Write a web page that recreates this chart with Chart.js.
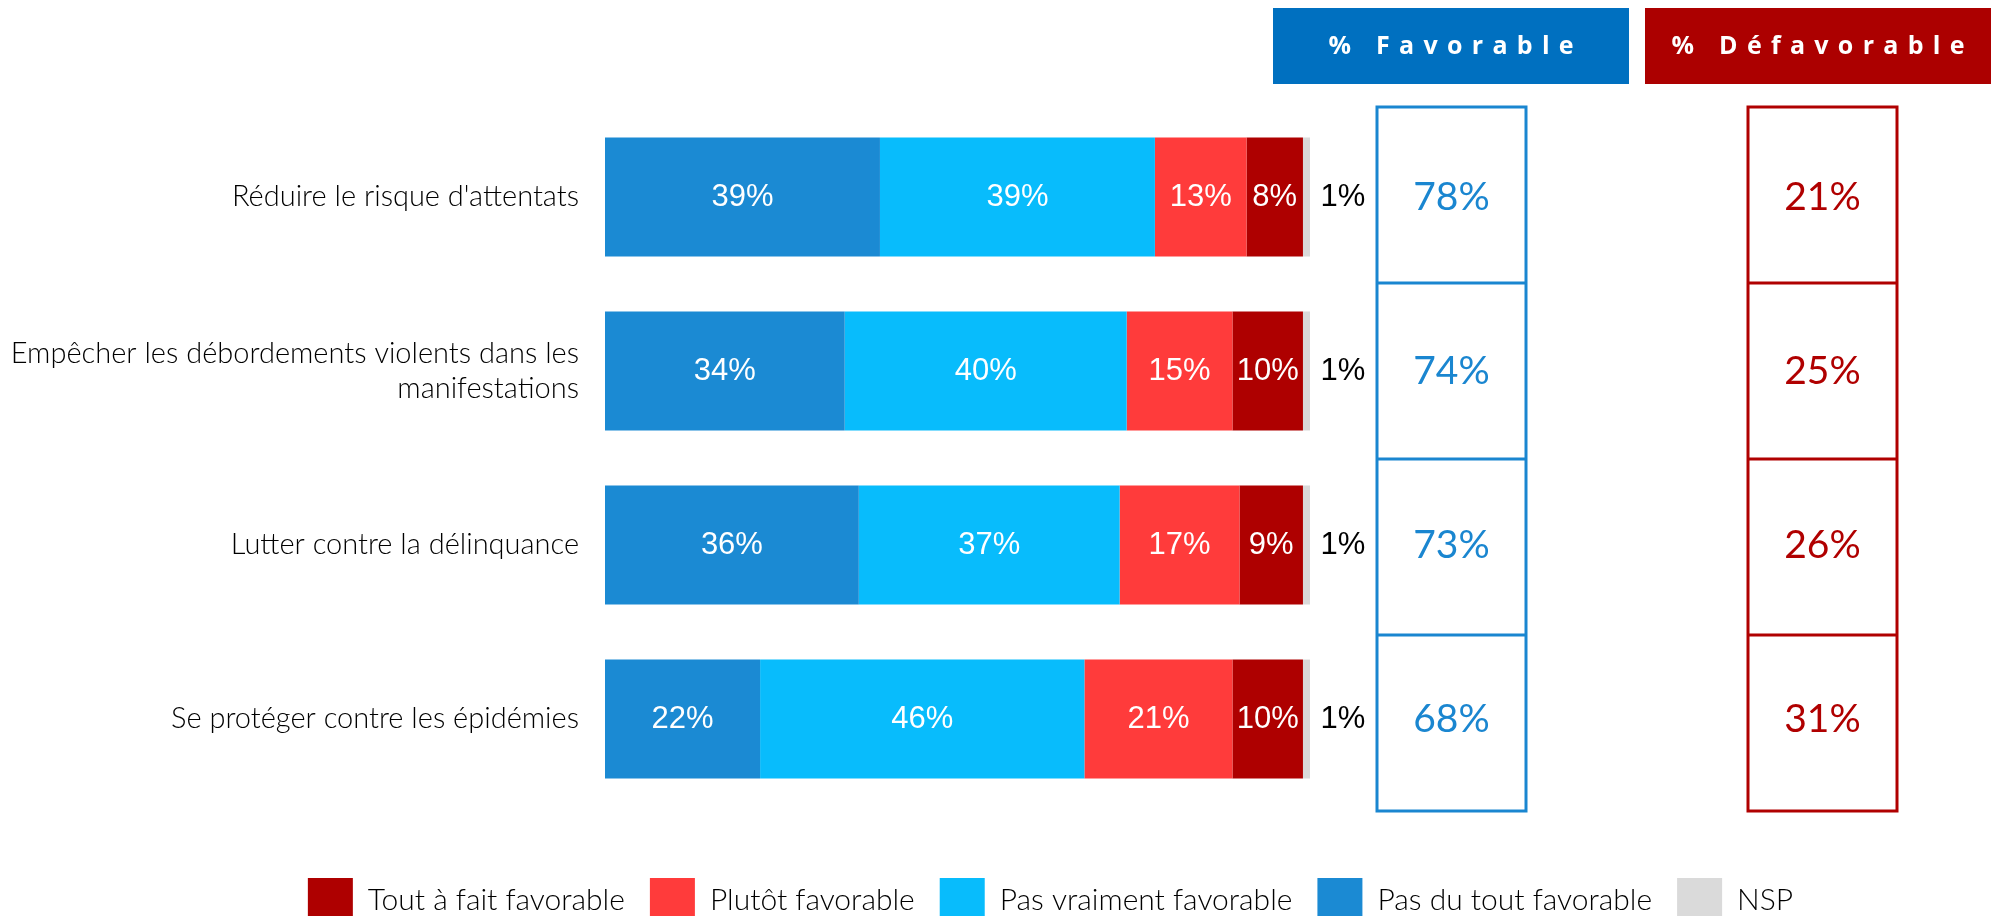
<!DOCTYPE html>
<html lang="fr">
<head>
<meta charset="utf-8">
<title>Favorable / Défavorable</title>
<script src="https://cdn.jsdelivr.net/npm/chart.js@4.4.1/dist/chart.umd.min.js"></script>
<style>
  html, body { margin: 0; padding: 0; background: #fff; overflow: hidden; }
  #wrap { width: 1991px; height: 916px; overflow: hidden; }
</style>
</head>
<body>
<div id="wrap"><canvas id="survey" width="1991" height="932"></canvas></div>
<script>
// data
const categories = [
  "Réduire le risque d'attentats",
  ["Empêcher les débordements violents dans les", "manifestations"],
  "Lutter contre la délinquance",
  "Se protéger contre les épidémies"
];
const pasDuTout = [39, 34, 36, 22];
const pasVraiment = [39, 40, 37, 46];
const plutot = [13, 15, 17, 21];
const toutAFait = [8, 10, 9, 10];
const nsp = [1, 1, 1, 1];
const favorable = [78, 74, 73, 68];
const defavorable = [21, 25, 26, 31];
const headerLabels = ["% Favorable", "% Défavorable"];

const humanist = "Lato, 'Open Sans', sans-serif";
const arial = "'Liberation Sans', Arial, sans-serif";

// legend shows the reds first, then the blues, then NSP
const legendOrder = [3, 2, 1, 0, 4];

function spaced(ctx, text, cx, cy, gap) {
  const chars = Array.from(text);
  const widths = chars.map(c => ctx.measureText(c).width);
  const total = widths.reduce((a, b) => a + b, 0) + gap * (chars.length - 1);
  let x = cx - total / 2;
  ctx.textAlign = 'left';
  chars.forEach((c, i) => {
    ctx.fillText(c, x, cy);
    x += widths[i] + gap;
  });
}

const overlay = {
  id: 'overlay',
  afterLayout(chart) {
    // the legend sits a bit right of the page centre in the original
    chart.legend.left += 55;
    chart.legend.right += 55;
  },
  afterDatasetsDraw(chart) {
    const {ctx, scales: {x}} = chart;
    ctx.save();
    ctx.textBaseline = 'middle';
    ctx.textAlign = 'center';
    ctx.font = '31px ' + arial;
    chart.data.datasets.forEach((ds, di) => {
      const meta = chart.getDatasetMeta(di);
      meta.data.forEach((bar, i) => {
        const v = ds.data[i] + '%';
        if (di === 4) {
          ctx.fillStyle = '#000';
          ctx.fillText(v, x.getPixelForValue(100) + 33, bar.y);
        } else {
          ctx.fillStyle = '#fff';
          ctx.fillText(v, (bar.x + bar.base) / 2, bar.y);
        }
      });
    });
    ctx.restore();
  },
  afterDraw(chart) {
    const {ctx, chartArea: area, scales: {y}} = chart;
    ctx.save();

    // headers
    const headers = [
      {x: 1273, w: 356, color: '#0070C0'},
      {x: 1645, w: 346, color: '#AC0000'}
    ];
    ctx.font = "bold 25px 'Open Sans', sans-serif";
    ctx.textBaseline = 'middle';
    headers.forEach((h, k) => {
      ctx.fillStyle = h.color;
      ctx.fillRect(h.x, 8, h.w, 76);
      ctx.fillStyle = '#fff';
      spaced(ctx, headerLabels[k], h.x + h.w / 2, 47, 9.3);
    });

    // boxed totals
    const top = area.top - 3;
    const bottom = area.bottom + 5;
    const rowH = (bottom - top) / categories.length;
    const boxes = [
      {x: 1377, w: 149, color: '#1A86D0', vals: favorable},
      {x: 1748, w: 149, color: '#B00000', vals: defavorable}
    ];
    ctx.lineWidth = 3;
    ctx.textAlign = 'center';
    ctx.font = "39px Lato, 'Noto Sans', sans-serif";
    boxes.forEach(b => {
      ctx.strokeStyle = b.color;
      ctx.fillStyle = b.color;
      ctx.strokeRect(b.x, top, b.w, bottom - top);
      for (let i = 1; i < categories.length; i++) {
        ctx.beginPath();
        ctx.moveTo(b.x, top + i * rowH);
        ctx.lineTo(b.x + b.w, top + i * rowH);
        ctx.stroke();
      }
      b.vals.forEach((v, i) => {
        ctx.fillText(v + '%', b.x + b.w / 2, y.getPixelForValue(i));
      });
    });
    ctx.restore();
  }
};

const data = {
  labels: categories,
  datasets: [
    {label: 'Pas du tout favorable', data: pasDuTout, backgroundColor: '#1B8AD3'},
    {label: 'Pas vraiment favorable', data: pasVraiment, backgroundColor: '#08BCFC'},
    {label: 'Plutôt favorable', data: plutot, backgroundColor: '#FF3B3B'},
    {label: 'Tout à fait favorable', data: toutAFait, backgroundColor: '#AE0000'},
    {label: 'NSP', data: nsp, backgroundColor: '#DADADA'}
  ]
};

const config = {
  type: 'bar',
  data: data,
  options: {
    indexAxis: 'y',
    responsive: false,
    animation: false,
    datasets: {
      bar: {categoryPercentage: 1, barPercentage: 0.684, borderWidth: 0}
    },
    layout: {padding: {top: 110, left: 0, right: 0, bottom: 0}},
    scales: {
      x: {stacked: true, min: 0, max: 100, display: false},
      y: {
        stacked: true,
        grid: {display: false},
        border: {display: false},
        ticks: {
          padding: 18,
          color: '#000',
          font: {family: humanist, size: 29, weight: 300, lineHeight: 1.2}
        },
        afterFit(scale) { scale.width = 605; }
      },
      yRight: {
        type: 'category',
        labels: categories,
        position: 'right',
        grid: {display: false},
        border: {display: false},
        ticks: {display: false},
        afterFit(scale) { scale.width = 681; }
      }
    },
    plugins: {
      tooltip: {enabled: false},
      legend: {
        position: 'bottom',
        title: {display: true, text: '', font: {size: 10}, padding: {top: 35, bottom: 0}},
        labels: {
          boxWidth: 45,
          boxHeight: 44,
          padding: 25,
          color: '#000',
          font: {family: humanist, size: 30, weight: 300},
          sort: (a, b) => legendOrder.indexOf(a.datasetIndex) - legendOrder.indexOf(b.datasetIndex)
        }
      }
    }
  },
  plugins: [overlay]
};

new Chart(document.getElementById('survey'), config);
</script>
</body>
</html>
